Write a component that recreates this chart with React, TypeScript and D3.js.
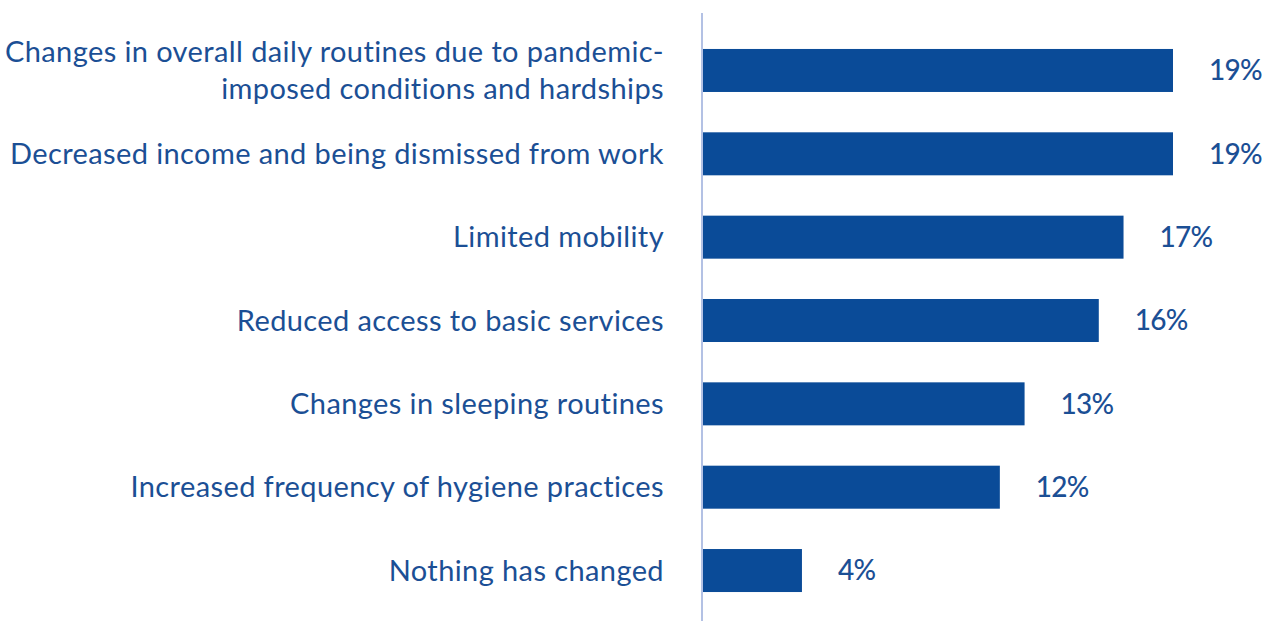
import React from "react";
import * as d3 from "d3";

const categories: string[][] = [
  ["Changes in overall daily routines due to pandemic-", "imposed conditions and hardships"],
  ["Decreased income and being dismissed from work"],
  ["Limited mobility"],
  ["Reduced access to basic services"],
  ["Changes in sleeping routines"],
  ["Increased frequency of hygiene practices"],
  ["Nothing has changed"],
];
const values: number[] = [19, 19, 17, 16, 13, 12, 4];
const valueLabels: string[] = ["19%", "19%", "17%", "16%", "13%", "12%", "4%"];

const W = 1274;
const H = 621;
const x0 = 702;
const textColor = "#1b4f95";
const barColor = "#0a4b98";
const font = "Lato, 'Open Sans', sans-serif";

export default function App() {
  const ids = categories.map((_, i) => String(i));
  const y = d3.scaleBand<string>().domain(ids).range([28.8, 612.2]).paddingInner(0.484).paddingOuter(0.242);
  const x = d3.scaleLinear().domain([0, 19]).range([x0 + 1, 1173]);
  return (
    <svg width={W} height={H} style={{ position: "absolute", left: 0, top: 0, background: "#fff" }}>
      <line x1={x0} x2={x0} y1={13} y2={H} stroke="#b3c1e4" strokeWidth={2} />
      {categories.map((lines, i) => {
        const yb = y(String(i))!;
        const cy = yb + y.bandwidth() / 2;
        const n = lines.length;
        return (
          <g key={i}>
            <rect x={x(0)} y={yb} width={x(values[i]) - x(0)} height={y.bandwidth()} fill={barColor} />
            {lines.map((t, j) => (
              <text
                key={j}
                x={664}
                y={cy + (j - (n - 1) / 2) * 37}
                dy="0.35em"
                textAnchor="end"
                fill={textColor}
                fontFamily={font}
                fontSize={29}
                letterSpacing={0.4}
              >
                {t}
              </text>
            ))}
            <text
              x={x(values[i]) + 36}
              y={cy}
              dy="0.35em"
              fill={textColor}
              fontFamily={font}
              fontSize={28}
              fontWeight={500}
              letterSpacing={-0.8}
            >
              {valueLabels[i]}
            </text>
          </g>
        );
      })}
    </svg>
  );
}
